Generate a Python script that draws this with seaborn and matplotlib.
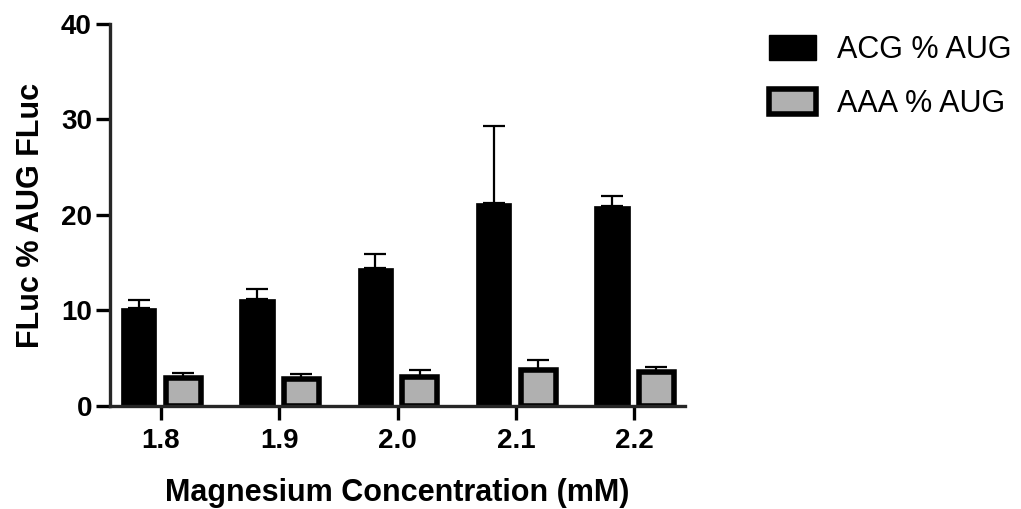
import pandas as pd
import matplotlib
matplotlib.use("Agg")
import matplotlib.pyplot as plt
import seaborn as sns
from matplotlib.patches import Patch

# values
conc = ["1.8", "1.9", "2.0", "2.1", "2.2"]
acg_mean = [10.3, 11.2, 14.4, 21.3, 20.9]
acg_err = [0.75, 1.0, 1.5, 8.0, 1.1]
aaa_mean = [2.95, 2.8, 3.0, 3.8, 3.6]
aaa_err = [0.55, 0.5, 0.77, 1.05, 0.45]
series = ["ACG % AUG", "AAA % AUG"]

df = pd.DataFrame({
    "conc": conc * 2,
    "value": acg_mean + aaa_mean,
    "err": acg_err + aaa_err,
    "series": [series[0]] * len(conc) + [series[1]] * len(conc),
})

sns.set_style("ticks")
plt.rcParams["font.family"] = ["Liberation Sans", "DejaVu Sans"]
plt.rcParams["text.color"] = "black"
plt.rcParams["axes.labelcolor"] = "black"
plt.rcParams["xtick.color"] = "black"
plt.rcParams["ytick.color"] = "black"

fig = plt.figure(figsize=(10.21, 5.09), dpi=100)
ax = fig.add_axes([0.1077, 0.2024, 0.5633, 0.7506])

pal = {series[0]: "black", series[1]: "#b0b0b0"}
sns.barplot(data=df, x="conc", y="value", hue="series", palette=pal,
            width=0.75, gap=0.21, errorbar=None, legend=False, ax=ax,
            saturation=1)

# outline for the grey bars, upward-only error bars
for cont, name in zip(ax.containers, series):
    sub = df[df.series == name]
    for bar, e in zip(cont, sub.err):
        bar.set_edgecolor("black")
        bar.set_linewidth(4 if name == series[1] else 0.5)
        x = bar.get_x() + bar.get_width() / 2
        h = bar.get_height()
        ax.errorbar(x, h, yerr=[[0], [e]], color="black", capsize=8,
                    elinewidth=1.6, capthick=1.6, zorder=0.5)

ax.set_ylim(0, 40)
ax.set_xlim(-0.43, 4.43)
ax.set_yticks([0, 10, 20, 30, 40])
for s in ["top", "right"]:
    ax.spines[s].set_visible(False)
for s in ["left", "bottom"]:
    ax.spines[s].set_linewidth(2.4)
ax.tick_params(axis="both", width=2.4, length=10)
ax.tick_params(axis="y", pad=3)
ax.tick_params(axis="x", pad=6)
for lab in ax.get_xticklabels() + ax.get_yticklabels():
    lab.set_fontsize(20)
    lab.set_fontweight("bold")
ax.set_xlabel("Magnesium Concentration (mM)", fontsize=22, fontweight="bold", labelpad=17)
ax.set_ylabel("FLuc % AUG FLuc", fontsize=22, fontweight="bold", labelpad=11)

handles = [Patch(facecolor="black", edgecolor="black", label=series[0]),
           Patch(facecolor="#b0b0b0", edgecolor="black", linewidth=4, label=series[1])]
fig.legend(handles=handles, loc="upper left", bbox_to_anchor=(769 / 1021, 1 - 35 / 509),
           frameon=False, fontsize=22, handlelength=1.54, handleheight=0.89,
           handletextpad=0.69, labelspacing=0.78, borderpad=0, borderaxespad=0)

fig.savefig("out.png", dpi=100)
